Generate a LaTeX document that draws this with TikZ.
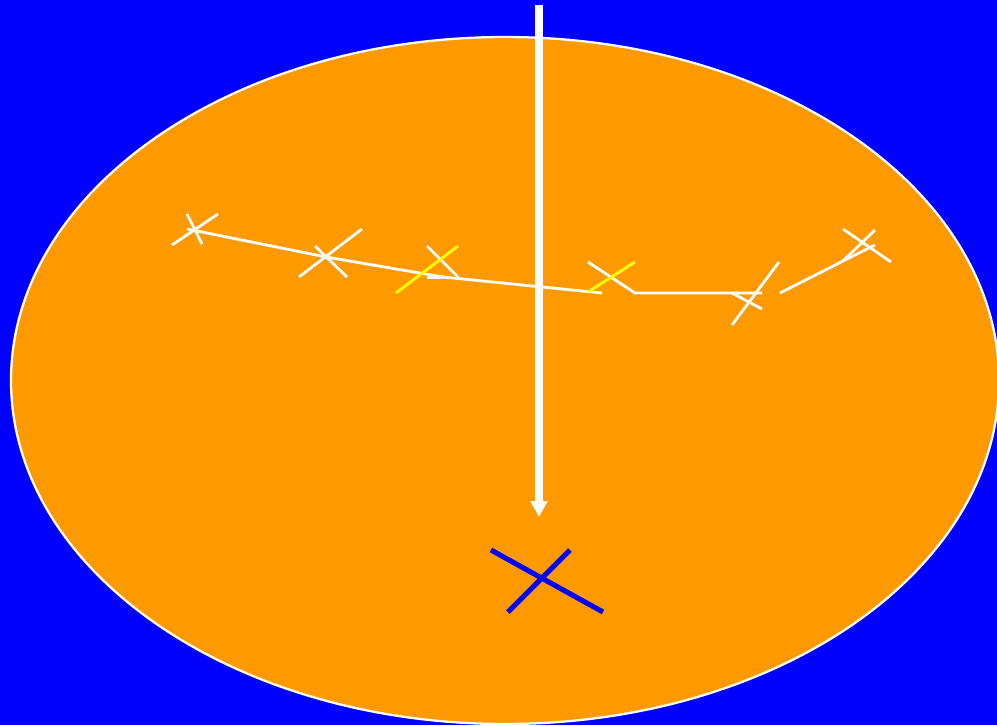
\documentclass[tikz,border=0pt]{standalone}
\usetikzlibrary{arrows.meta}
\definecolor{bgblue}{HTML}{0000FF}
\definecolor{dishorange}{HTML}{FF9900}
\definecolor{markyellow}{HTML}{FFFF00}

\tikzset{
  track/.style={white, line width=1.6pt},
  hit/.style={markyellow, line width=1.6pt},
  vertex/.style={bgblue, line width=2.9pt}
}

\begin{document}
\begin{tikzpicture}[x=0.02cm, y=-0.02cm, >={Triangle[length=0.32cm, width=0.33cm]}]

% Background
\useasboundingbox (0,0) rectangle (997,725);
\clip (0,0) rectangle (997,725);
\fill[bgblue] (0,0) rectangle (997,725);

% Ellipse
\fill[dishorange] (505,380.5) ellipse [x radius=494, y radius=343.5];
\draw[white, line width=1.3pt] (505,380.5) ellipse [x radius=494, y radius=343.5];

% Beam arrow
\coordinate (beamtop) at (539,5);
\coordinate (beamtip) at (539,517);
\draw[white, ->, line width=4pt] (beamtop) -- (beamtip);

% Left track
\draw[track] (187,229) -- (326,257) -- (443,277) -- (602,293);
\draw[track, line width=2.2pt] (427,277) -- (443,277);
\draw[track] (187,214) -- (202,244);
\draw[track] (218,214) -- (172,245);
\draw[track] (362,229) -- (299,277);
\draw[track] (315,246) -- (347,277);
\draw[track] (427,246) -- (458,277);
\draw[hit] (458,246) -- (396,293);

% Middle track
\draw[track] (588,262) -- (635,293) -- (762,293);
\draw[hit] (635,262) -- (588,292);
\draw[track] (779,262) -- (732,325);
\draw[track] (732,293) -- (762,309);

% Right track
\draw[track] (780,293) -- (843,261) -- (875,245);
\draw[track] (843,261) -- (875,230);
\draw[track] (843,229) -- (891,262);

% Vertex
\draw[vertex] (491,550) -- (603,612);
\draw[vertex] (570,550) -- (508,612);

\end{tikzpicture}
\end{document}
